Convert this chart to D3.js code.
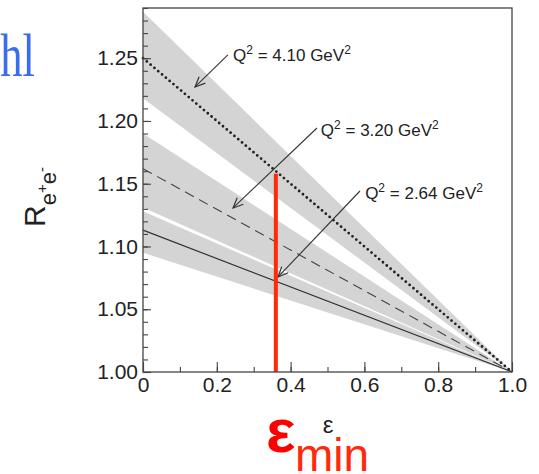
<!DOCTYPE html>
<html><head><meta charset="utf-8">
<script src="https://cdn.jsdelivr.net/npm/d3@7/dist/d3.min.js"></script>
<style>body{margin:0;background:#fff}svg{display:block}</style>
</head><body>
<svg id="c" width="539" height="474"></svg>
<script>
// ---- data ----
const q2Labels = ["4.10", "3.20", "2.64"];
const centerAt0 = [1.250, 1.162, 1.113];   // R at epsilon = 0 (all lines reach 1 at epsilon = 1)
const upperAt0  = [1.287, 1.190, 1.128];
const lowerAt0  = [1.218, 1.131, 1.095];
const lineStyles = ["dotted", "dashed", "solid"];
const xTicks = [0, 0.2, 0.4, 0.6, 0.8, 1.0];
const xTickLabels = ["0", "0.2", "0.4", "0.6", "0.8", "1.0"];
const yTicks = [1.00, 1.05, 1.10, 1.15, 1.20, 1.25];
const yTickLabels = ["1.00", "1.05", "1.10", "1.15", "1.20", "1.25"];
const epsMin = 0.36;          // red marker
const epsMinTop = 1.158;
// annotation arrows (data units): [fromEps, fromR, toEps, toR]
const arrows = [[0.230, 1.2526, 0.141, 1.2271],
                [0.4715, 1.1944, 0.244, 1.1307],
                [0.588, 1.1442, 0.366, 1.0757]];
const labelPos = [[0.244, 1.2478], [0.482, 1.1880], [0.602, 1.1378]];

// ---- layout ----
const svg = d3.select("#c");
const x = d3.scaleLinear().domain([0, 1]).range([143, 512]);
const y = d3.scaleLinear().domain([1.0, 1.29]).range([372, 8]);
const font = "'Liberation Sans', Arial, Helvetica, sans-serif";

// bands
const lineAt = (r0) => [[0, r0], [1, 1]];
q2Labels.forEach((q, i) => {
  const poly = [[0, upperAt0[i]], [1, 1], [0, lowerAt0[i]]];
  svg.append("path")
    .attr("d", "M" + poly.map(p => x(p[0]) + "," + y(p[1])).join("L") + "Z")
    .attr("fill", "#d4d4d4");
});
// central lines
const line = d3.line().x(d => x(d[0])).y(d => y(d[1]));
q2Labels.forEach((q, i) => {
  const p = svg.append("path").attr("d", line(lineAt(centerAt0[i]))).attr("fill", "none");
  if (lineStyles[i] === "dotted") {
    p.attr("stroke", "#222").attr("stroke-width", 2.8).attr("stroke-linecap", "round").attr("stroke-dasharray", "0 5");
  } else if (lineStyles[i] === "dashed") {
    p.attr("stroke", "#444").attr("stroke-width", 1.1).attr("stroke-dasharray", "10 6");
  } else {
    p.attr("stroke", "#333").attr("stroke-width", 1.2);
  }
});

// arrows
arrows.forEach(a => {
  const x1 = x(a[0]), y1 = y(a[1]), x2 = x(a[2]), y2 = y(a[3]);
  svg.append("line").attr("x1", x1).attr("y1", y1).attr("x2", x2).attr("y2", y2)
    .attr("stroke", "#333").attr("stroke-width", 1.1);
  const ang = Math.atan2(y1 - y2, x1 - x2), L = 11, h = 0.42;
  const pts = [[x2 + L * Math.cos(ang + h), y2 + L * Math.sin(ang + h)], [x2, y2],
               [x2 + L * Math.cos(ang - h), y2 + L * Math.sin(ang - h)]];
  svg.append("path").attr("d", "M" + pts.map(p => p.join(",")).join("L"))
    .attr("fill", "none").attr("stroke", "#333").attr("stroke-width", 1.2);
});
// labels
q2Labels.forEach((q, i) => {
  const t = svg.append("text").attr("x", x(labelPos[i][0])).attr("y", y(labelPos[i][1]))
    .attr("font-family", font).attr("font-size", 17).attr("fill", "#222");
  t.append("tspan").text("Q");
  t.append("tspan").attr("font-size", 12).attr("dy", -7).text("2");
  t.append("tspan").attr("dy", 7).text(" = " + q + " GeV");
  t.append("tspan").attr("font-size", 12).attr("dy", -7).text("2");
});

// red marker
svg.append("line").attr("x1", x(epsMin)).attr("x2", x(epsMin))
  .attr("y1", y(1.0)).attr("y2", y(epsMinTop))
  .attr("stroke", "#ff2a0a").attr("stroke-width", 4);

// frame
svg.append("rect").attr("x", x(0)).attr("y", y(1.29)).attr("width", x(1) - x(0)).attr("height", y(1) - y(1.29))
  .attr("fill", "none").attr("stroke", "#444").attr("stroke-width", 1.3);

// axes
const gy = svg.append("g").attr("transform", `translate(${x(0)},0)`);
gy.call(d3.axisLeft(y).tickValues(d3.range(100, 130).map(v => v / 100)).tickSize(-5).tickFormat(""));
const gy2 = svg.append("g").attr("transform", `translate(${x(0)},0)`);
gy2.call(d3.axisLeft(y).tickValues(yTicks).tickSize(-8).tickPadding(5)
  .tickFormat((d, i) => yTickLabels[i]));
const gx = svg.append("g").attr("transform", `translate(0,${y(1)})`);
gx.call(d3.axisBottom(x).tickValues(d3.range(0, 11).map(v => v / 10)).tickSize(-5).tickFormat(""));
const gx2 = svg.append("g").attr("transform", `translate(0,${y(1)})`);
gx2.call(d3.axisBottom(x).tickValues(xTicks).tickSize(-10).tickPadding(5)
  .tickFormat((d, i) => xTickLabels[i]));
[gy, gy2, gx, gx2].forEach(g => {
  g.select(".domain").remove();
  g.selectAll(".tick line").attr("stroke", "#444").attr("stroke-width", 1.1);
  g.selectAll("text").attr("font-family", font).attr("font-size", 21).attr("fill", "#222");
});

// y axis title R_{e+e-}
const yt = svg.append("text").attr("transform", "translate(45,227) rotate(-90)")
  .attr("font-family", font).attr("font-size", 30).attr("fill", "#222");
yt.append("tspan").text("R");
yt.append("tspan").attr("font-size", 22).attr("dy", 11).text("e");
yt.append("tspan").attr("font-size", 15).attr("dy", -9).text("+");
yt.append("tspan").attr("font-size", 22).attr("dy", 9).text("e");
yt.append("tspan").attr("font-size", 15).attr("dy", -9).text("-");

// x axis title
svg.append("text").attr("x", 328).attr("y", 433).attr("text-anchor", "middle")
  .attr("font-family", font).attr("font-size", 24).attr("fill", "#222").text("ε");
svg.append("text").attr("x", 266).attr("y", 452)
  .attr("font-family", font).attr("font-size", 62).attr("font-weight", "bold").attr("fill", "#ff0000").text("ε");
svg.append("text").attr("x", 295).attr("y", 471)
  .attr("font-family", font).attr("font-size", 46).attr("fill", "#ff2a0a").text("min");

// partial blue text at top-left
svg.append("text").attr("transform", "translate(35,76) scale(0.72,1)").attr("text-anchor", "end")
  .attr("font-family", "'Liberation Serif', 'Times New Roman', serif").attr("font-size", 62)
  .attr("fill", "#3a6cf0").text("hl");
</script>
</body></html>
